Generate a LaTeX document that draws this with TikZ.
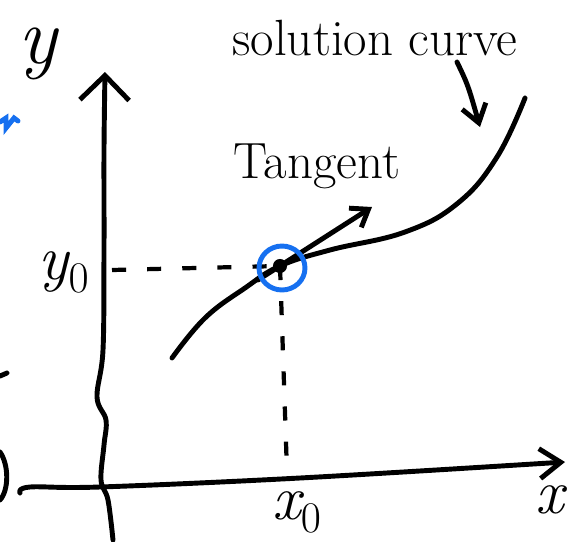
\documentclass[tikz,border=0pt]{standalone}
\usepackage{xcolor}
\usepackage{tikz}
\usetikzlibrary{
    arrows.meta,
    positioning,
    calc
}
\definecolor{inkblue}{RGB}{22,112,240}
\tikzset{
    pen/.style={
        draw=black,
        line width=2.8pt,
        line cap=round,
        line join=round
    }
}
\tikzset{
    guide/.style={
        pen,
        line width=2.4pt,
        line cap=butt,
        dash pattern=on 8pt off 12pt
    }
}
\tikzset{
    marker/.style={
        draw=inkblue,
        line width=2.8pt,
        line cap=round
    }
}
\tikzset{
    axislabel/.style={
        inner sep=0pt,
        font=\fontsize{46}{50}\selectfont\itshape
    }
}
\tikzset{
    handtext/.style={
        inner sep=0pt,
        font=\fontsize{29}{32}\selectfont
    }
}

\begin{document}
\begin{tikzpicture}[
    x=0.02cm,
    y=-0.02cm
]
\useasboundingbox (0,0) rectangle (568,541);

% axes
\draw[pen, -{Straight Barb[length=14pt,width=28pt]}]
    plot[smooth, tension=0.6] coordinates
    {(113,540) (108,500) (101,480) (104,445) (106,420) (97,397) (103,350) (104,250) (104,150) (105,72)};
\draw[pen, -{Straight Barb[length=12pt,width=17pt]}]
    plot[smooth, tension=0.6] coordinates
    {(20,493) (30,487) (100,487) (300,478) (565,462)};

\node[axislabel] (ylabel) at (38,54) {y};
\node[axislabel, font=\fontsize{36}{40}\selectfont\itshape] (xlabel) at (550,500) {x};

% point and guides
\coordinate (p0) at (280,266);
\coordinate (x0tick) at (287,472);
\coordinate (y0tick) at (112,270);
\draw[guide] (y0tick) -- (p0);
\draw[guide] (p0) -- (x0tick);
\fill (p0) circle[radius=4pt];

\node[axislabel, font=\fontsize{36}{40}\selectfont\itshape] (x0label) at (297,512) {x$_{\mathrm{0}}$};
\node[axislabel, font=\fontsize{36}{40}\selectfont\itshape] (y0label) at (64,272) {y$_{\mathrm{0}}$};

% solution curve
\draw[pen] plot[smooth, tension=0.7] coordinates
    {(172,358) (205,318) (245,288) (280,266) (330,250) (405,232) (458,203) (497,157) (525,98)};

% tangent
\coordinate (tangenttip) at (372,207);
\draw[pen, -{Straight Barb[length=9pt,width=13pt]}] (258,280) -- (tangenttip);
\node[handtext] (tangentlabel) at (317,166) {Tangent};

% blue marker
\draw[marker] (282,268) ellipse[x radius=0.46cm, y radius=0.44cm];

% label for the curve
\node[handtext] (curvelabel) at (375,38) {solution curve};
\coordinate (pointerstart) at (457,62);
\coordinate (pointerend) at (480,127);
\draw[pen, -{Straight Barb[length=10pt,width=14pt]}]
    (pointerstart) .. controls (468,85) .. (pointerend);

% cut-off marks at the left edge
\draw[marker] (0,122) -- (6,118) -- (6,128) -- (14,118) -- (18,121);
\draw[pen] (0,376) -- (7,373);
\draw[pen] (0,452) .. controls (9,465) and (9,490) .. (0,500);

\end{tikzpicture}
\end{document}
